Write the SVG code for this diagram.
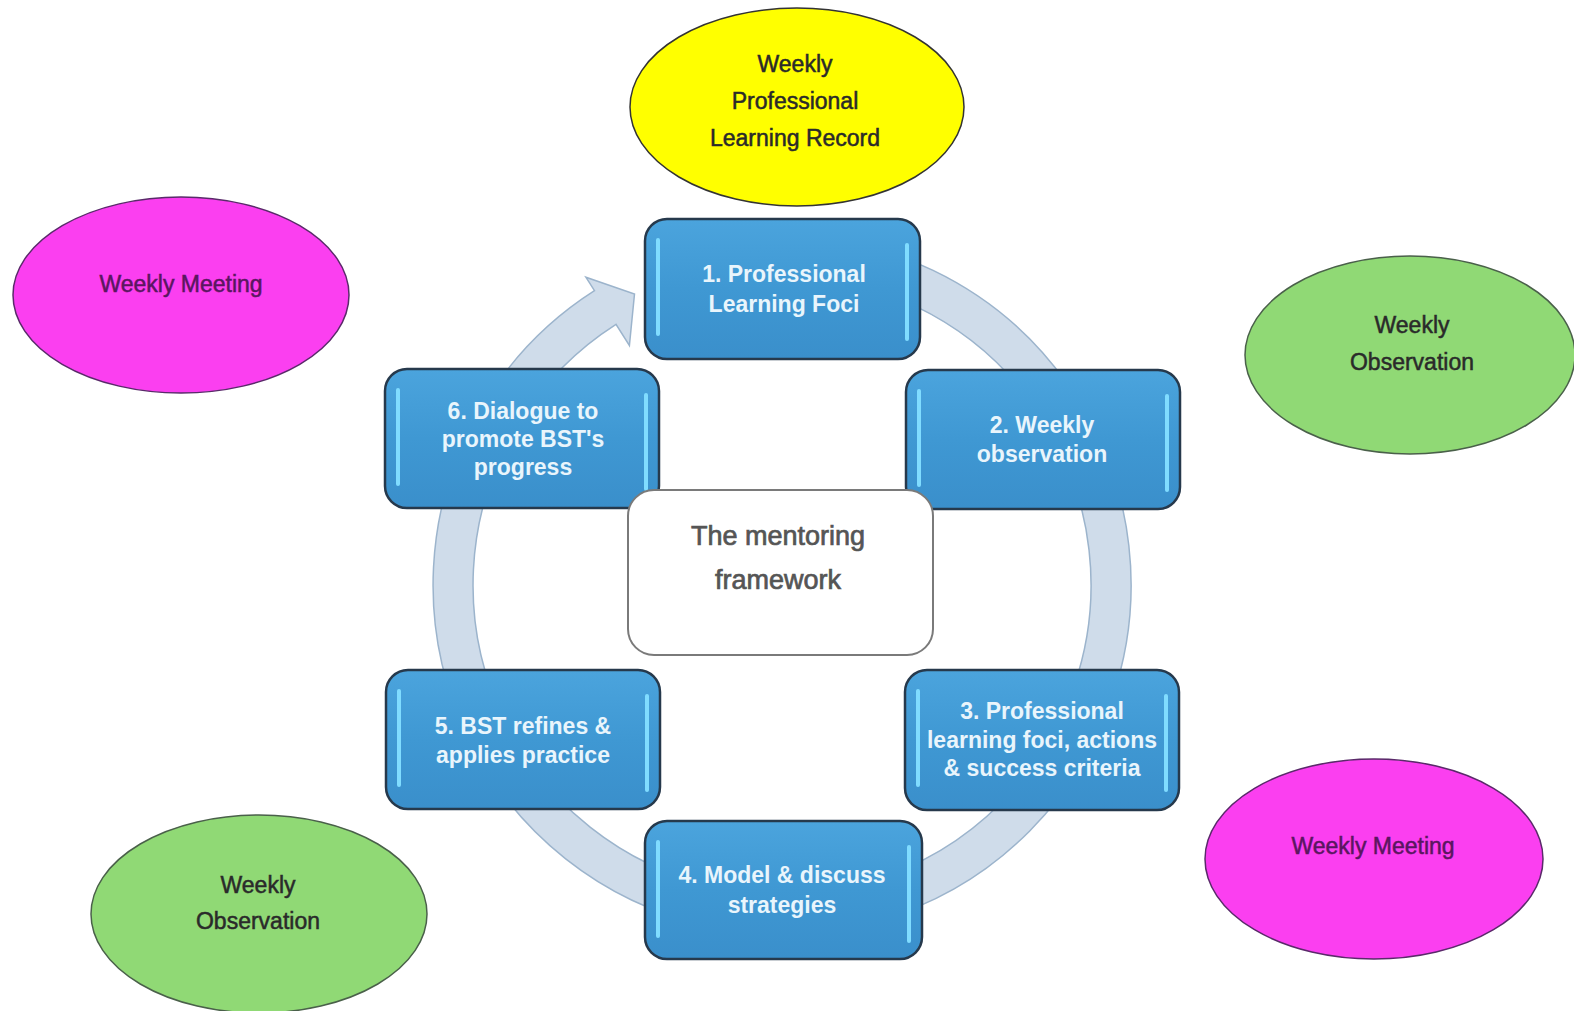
<svg xmlns="http://www.w3.org/2000/svg" width="1574" height="1011" viewBox="0 0 1574 1011">
<defs>
<linearGradient id="boxg" x1="0" y1="0" x2="0" y2="1">
<stop offset="0" stop-color="#4ba4dd"/>
<stop offset="0.5" stop-color="#3f98d3"/>
<stop offset="1" stop-color="#3a8fcb"/>
</linearGradient>
<style>
.box{fill:url(#boxg);stroke:#26394c;stroke-width:2.5}
.hl{stroke:#80dcff;stroke-width:4;stroke-linecap:round;fill:none}
.bt{font-family:"Liberation Sans",Arial,sans-serif;font-weight:bold;font-size:23px;fill:#e9f5fc;text-anchor:middle}
.et{font-family:"Liberation Sans",Arial,sans-serif;font-size:23px;fill:#2a2a2a;stroke:#2a2a2a;stroke-width:0.5;text-anchor:middle}
.mt{fill:#5a1660;stroke:#5a1660}
.ct{font-family:"Liberation Sans",Arial,sans-serif;font-size:27px;fill:#555555;stroke:#555555;stroke-width:0.7;text-anchor:middle}
.ring{fill:#cfdcea;stroke:#9cb4cc;stroke-width:1.5}
</style>
</defs>
<rect width="1574" height="1011" fill="#ffffff"/>

<g id="connectors">
<path class="ring" d="M782,236 A349,349 0 1 1 594.5,290.7 L585.9,277.2 L634.5,294 L629.4,345.5 L616,324.4 A309,309 0 1 0 782,276 Z"/>
</g>

<g id="box1">
<rect class="box" x="645" y="219" width="275" height="140" rx="22"/>
<line class="hl" x1="658" y1="240" x2="658" y2="334"/>
<line class="hl" x1="907" y1="245" x2="907" y2="339"/>
<text class="bt" x="784" y="282">1. Professional</text>
<text class="bt" x="784" y="312">Learning Foci</text>
</g>

<g id="box2">
<rect class="box" x="906" y="370" width="274" height="139" rx="22"/>
<line class="hl" x1="919" y1="391" x2="919" y2="485"/>
<line class="hl" x1="1167" y1="396" x2="1167" y2="490"/>
<text class="bt" x="1042" y="433">2. Weekly</text>
<text class="bt" x="1042" y="462">observation</text>
</g>

<g id="box3">
<rect class="box" x="905" y="670" width="274" height="140" rx="22"/>
<line class="hl" x1="918" y1="691" x2="918" y2="785"/>
<line class="hl" x1="1166" y1="696" x2="1166" y2="790"/>
<text class="bt" x="1042" y="719">3. Professional</text>
<text class="bt" x="1042" y="748">learning foci, actions</text>
<text class="bt" x="1042" y="776">&amp; success criteria</text>
</g>

<g id="box4">
<rect class="box" x="645" y="821" width="277" height="138" rx="22"/>
<line class="hl" x1="658" y1="842" x2="658" y2="936"/>
<line class="hl" x1="909" y1="847" x2="909" y2="941"/>
<text class="bt" x="782" y="883">4. Model &amp; discuss</text>
<text class="bt" x="782" y="913">strategies</text>
</g>

<g id="box5">
<rect class="box" x="386" y="670" width="274" height="139" rx="22"/>
<line class="hl" x1="399" y1="691" x2="399" y2="785"/>
<line class="hl" x1="647" y1="696" x2="647" y2="790"/>
<text class="bt" x="523" y="734">5. BST refines &amp;</text>
<text class="bt" x="523" y="763">applies practice</text>
</g>

<g id="box6">
<rect class="box" x="385" y="369" width="274" height="139" rx="22"/>
<line class="hl" x1="398" y1="390" x2="398" y2="484"/>
<line class="hl" x1="646" y1="395" x2="646" y2="489"/>
<text class="bt" x="523" y="419">6. Dialogue to</text>
<text class="bt" x="523" y="447">promote BST's</text>
<text class="bt" x="523" y="475">progress</text>
</g>

<g id="center">
<rect x="628" y="490" width="305" height="165" rx="26" fill="#ffffff" stroke="#7a7a7a" stroke-width="2"/>
<text class="ct" x="778" y="545">The mentoring</text>
<text class="ct" x="778" y="589">framework</text>
</g>

<g id="record">
<ellipse cx="797" cy="107" rx="167" ry="99" fill="#ffff00" stroke="#333333" stroke-width="1.5"/>
<text class="et" x="795" y="72">Weekly</text>
<text class="et" x="795" y="109">Professional</text>
<text class="et" x="795" y="146">Learning Record</text>
</g>

<g id="meeting-left">
<ellipse cx="181" cy="295" rx="168" ry="98" fill="#fb3ff0" stroke="#5a2a6a" stroke-width="1.5"/>
<text class="et mt" x="181" y="292">Weekly Meeting</text>
</g>

<g id="observation-right">
<ellipse cx="1410" cy="355" rx="165" ry="99" fill="#90d975" stroke="#4a604a" stroke-width="1.5"/>
<text class="et" x="1412" y="333">Weekly</text>
<text class="et" x="1412" y="370">Observation</text>
</g>

<g id="meeting-right">
<ellipse cx="1374" cy="859" rx="169" ry="100" fill="#fb3ff0" stroke="#5a2a6a" stroke-width="1.5"/>
<text class="et mt" x="1373" y="854">Weekly Meeting</text>
</g>

<g id="observation-left">
<ellipse cx="259" cy="914" rx="168" ry="99" fill="#90d975" stroke="#4a604a" stroke-width="1.5"/>
<text class="et" x="258" y="893">Weekly</text>
<text class="et" x="258" y="929">Observation</text>
</g>
</svg>
